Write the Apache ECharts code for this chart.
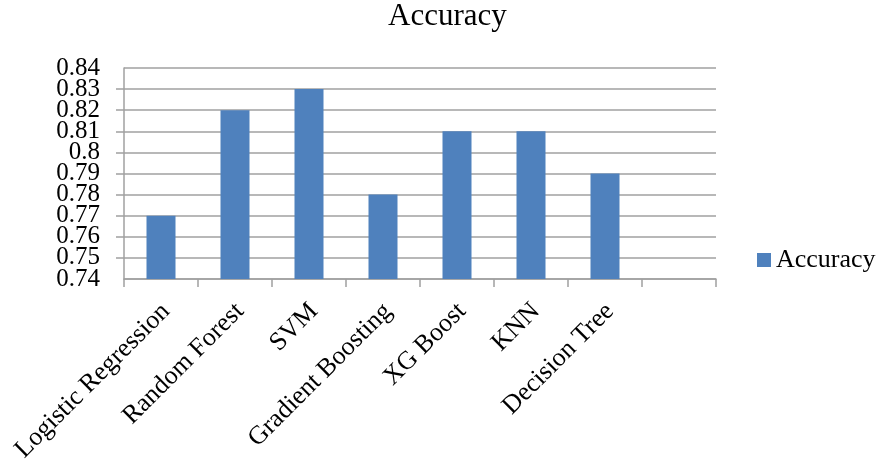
<!DOCTYPE html>
<html>
<head>
<meta charset="utf-8">
<script src="https://cdn.jsdelivr.net/npm/echarts@6/dist/echarts.min.js"></script>
<style>html,body{margin:0;padding:0;background:#fff}#c{width:883px;height:463px}</style>
</head>
<body>
<div id="c"></div>
<script>
const categories = ["Logistic Regression", "Random Forest", "SVM", "Gradient Boosting", "XG Boost", "KNN", "Decision Tree", ""];
const accuracy = [0.77, 0.82, 0.83, 0.78, 0.81, 0.81, 0.79, null];
const yMin = 0.74, yMax = 0.84, yStep = 0.01;

const font = '"Liberation Serif", "Times New Roman", serif';
const fmt = v => String(+v.toFixed(2));
const labelBase = { margin: 24, fontFamily: font, fontSize: 25, color: '#000' };
const chart = echarts.init(document.getElementById('c'));
chart.setOption({
  backgroundColor: '#fff',
  animation: false,
  title: {
    text: 'Accuracy', left: 388, top: 1, padding: 0,
    textStyle: { fontFamily: font, fontSize: 31, fontWeight: 'normal', color: '#000' }
  },
  legend: {
    data: ['Accuracy'], orient: 'vertical', left: 757, top: 247, padding: 0,
    itemWidth: 14, itemHeight: 14, itemGap: 6,
    icon: 'rect',
    textStyle: { fontFamily: font, fontSize: 26, color: '#000' }
  },
  grid: { left: 124, right: 167, top: 68, bottom: 184, containLabel: false, outerBoundsMode: 'none' },
  xAxis: {
    type: 'category', data: categories, boundaryGap: true,
    axisLine: { lineStyle: { color: '#A0A0A0', width: 1.5 } },
    axisTick: { show: true, length: 8, lineStyle: { color: '#A0A0A0', width: 1.5 } },
    axisLabel: { rotate: 45, interval: 0, margin: 15, verticalAlign: 'top', padding: [0, 6, 0, 0],
      fontFamily: font, fontSize: 26, color: '#000' }
  },
  yAxis: [{
    type: 'value', position: 'left', min: yMin, max: yMax, interval: yStep,
    axisLine: { show: true, lineStyle: { color: '#A0A0A0', width: 1.5 } },
    axisTick: { show: true, length: 8, lineStyle: { color: '#A0A0A0', width: 1.5 } },
    splitLine: { lineStyle: { color: '#A0A0A0', width: 1.5 } },
    axisLabel: Object.assign({}, labelBase, { showMinLabel: false, showMaxLabel: false, formatter: fmt })
  }, {
    type: 'value', position: 'left', offset: 0, min: yMin, max: yMax, interval: yStep,
    axisLine: { show: false }, axisTick: { show: false }, splitLine: { show: false },
    axisLabel: Object.assign({}, labelBase, { showMinLabel: true, showMaxLabel: true,
      formatter: v => (Math.abs(v - yMin) < 1e-9 || Math.abs(v - yMax) < 1e-9) ? fmt(v) : '' })
  }],
  series: [{
    name: 'Accuracy', type: 'bar', data: accuracy, barWidth: 29, yAxisIndex: 0,
    itemStyle: { color: '#4F81BD' }
  }]
});
</script>
</body>
</html>
